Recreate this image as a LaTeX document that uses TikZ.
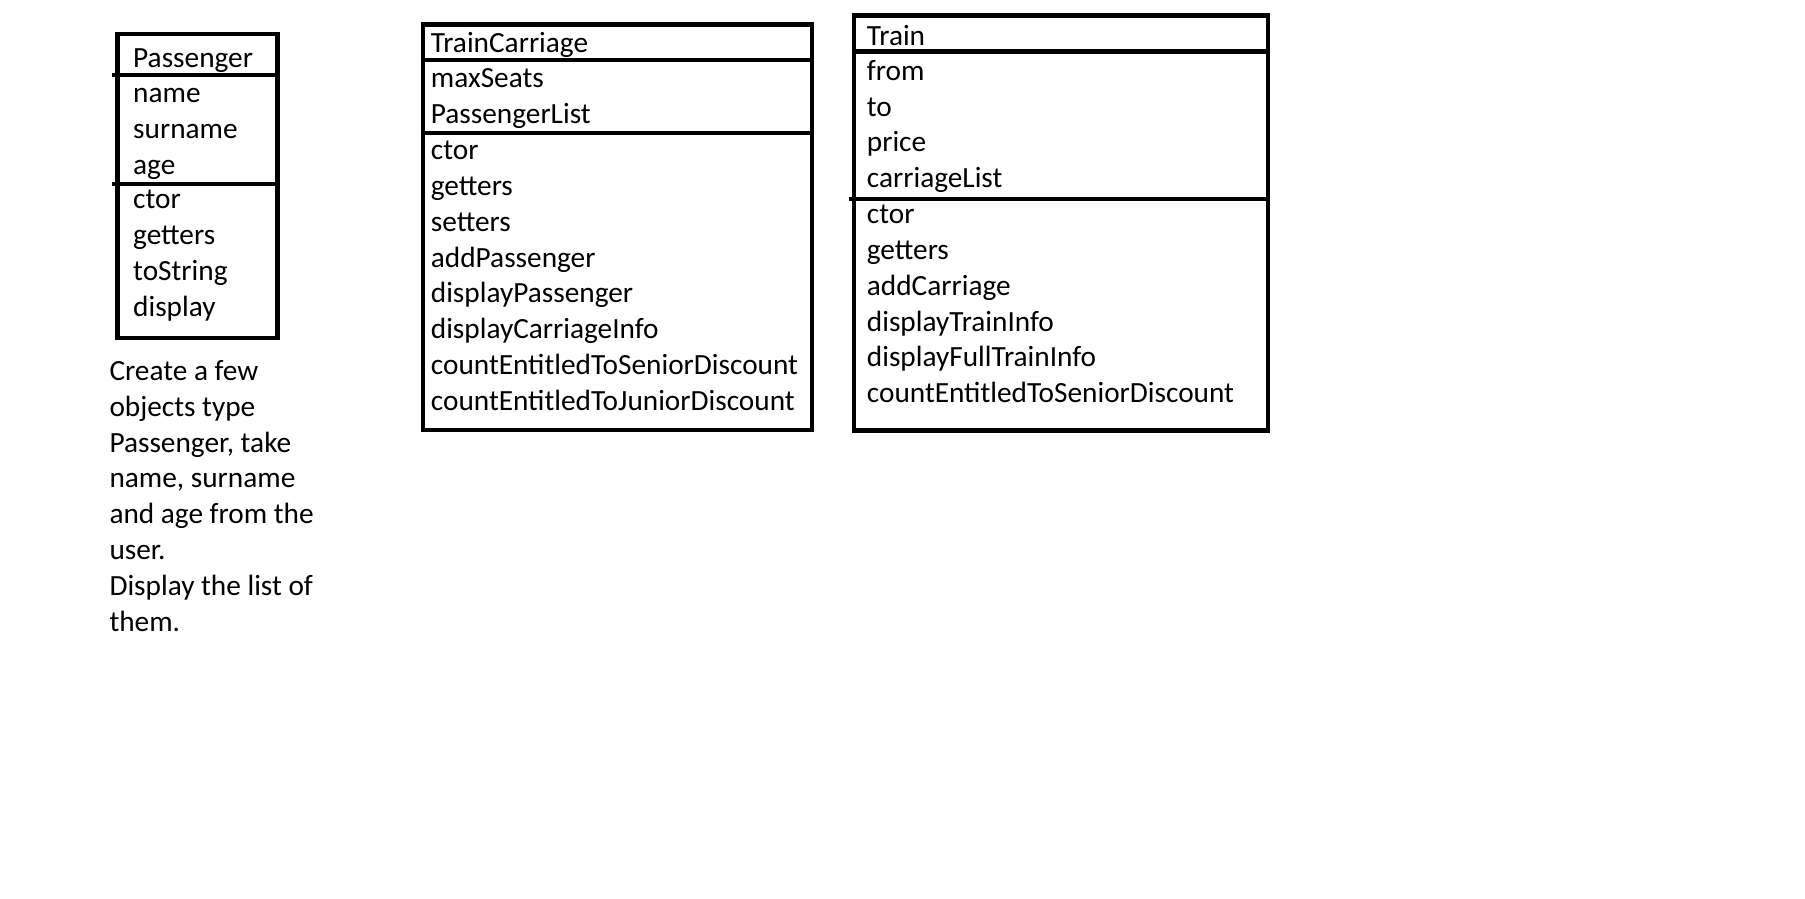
\documentclass[tikz,border=0pt]{standalone}
\usepackage{fontspec}
\setmainfont{Carlito}
\usetikzlibrary{positioning,calc}

\begin{document}
\begin{tikzpicture}[
  x=1pt, y=-1pt,
  box/.style={draw,line width=4.5pt,inner sep=0pt},
  bar/.style={line width=4.5pt},
  member/.style={anchor=base west,align=left,inner sep=0pt,
    font=\fontsize{29.3}{35.8}\selectfont}
]
\useasboundingbox (0,0) rectangle (1805,898);

% --- Class boxes ---
\node[box,minimum width=160pt,minimum height=304pt]   (pass)  at (197.5,186) {};
\node[box,minimum width=389.3pt,minimum height=405.7pt] (carr) at (617.4,227.2) {};
\node[box,minimum width=414.3pt,minimum height=415pt]  (train) at (1060.9,223) {};

% --- Compartment bars ---
\draw[bar] ([xshift=-3pt]pass.west |- 0,75)  -- (pass.east |- 0,75);
\draw[bar] ([xshift=-3pt]pass.west |- 0,184) -- (pass.east |- 0,184);
\draw[bar] (carr.west |- 0,60)    -- (carr.east |- 0,60);
\draw[bar] (carr.west |- 0,133)   -- (carr.east |- 0,133);
\draw[bar] (train.west |- 0,51.7) -- (train.east |- 0,51.7);
\draw[bar] ([xshift=-3pt]train.west |- 0,199) -- (train.east |- 0,199);

% --- Passenger (anchored at last line) ---
\node[member] (passT) at (133,67)  {Passenger};
\node[member] (passA) at (133,174) {name\\surname\\age};
\node[member] (passM) at (133,316) {ctor\\getters\\toString\\display};

% --- TrainCarriage ---
\node[member] (carrT) at (430.7,52.5)  {TrainCarriage};
\node[member] (carrA) at (430.7,123.5) {maxSeats\\PassengerList};
\node[member] (carrM) at (430.7,410.3) {ctor\\getters\\setters\\addPassenger\\displayPassenger\\displayCarriageInfo\\countEntitledToSeniorDiscount\\countEntitledToJuniorDiscount};

% --- Train ---
\node[member] (trainT) at (866.7,45.3)  {Train};
\node[member] (trainA) at (866.7,187.7) {from\\to\\price\\carriageList};
\node[member] (trainM) at (866.7,402.7) {ctor\\getters\\addCarriage\\displayTrainInfo\\displayFullTrainInfo\\countEntitledToSeniorDiscount};

% --- Task note ---
\node[member] (task) at (109.3,631) {Create a few\\objects type\\Passenger, take\\name, surname\\and age from the\\user.\\Display the list of\\them.};

\end{tikzpicture}
\end{document}
